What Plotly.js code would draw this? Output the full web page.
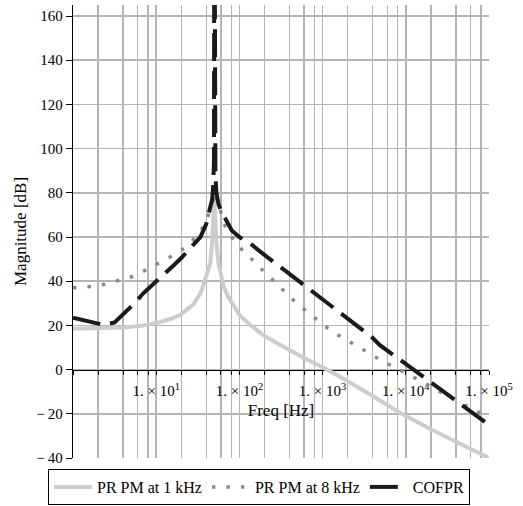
<!DOCTYPE html>
<html>
<head>
<meta charset="utf-8">
<script src="https://cdn.plot.ly/plotly-3.0.1.min.js"></script>
<style>
html,body{margin:0;padding:0;background:#fff;}
#chart{width:523px;height:506px;}
</style>
</head>
<body>
<div id="chart"></div>
<script>
// PR PM at 1 kHz (light gray solid)
const freq1k = [1, 2, 4, 7, 11, 15, 20, 28, 34, 37, 41, 44.6, 47, 48.3, 49.3, 50, 50.7, 51.8, 53.2, 56, 60, 64.6, 72, 81.5, 100, 135, 200, 400, 600, 1000, 1620, 4100, 8600, 20000, 50000, 100000];
const mag1k  = [18.5, 18.6, 19, 20, 21.5, 23, 25, 29.5, 34.5, 38.5, 43.5, 48, 57, 64, 72, 78, 72, 64, 57, 48, 42, 37.6, 33.5, 30, 24.7, 20.2, 15.2, 8.9, 5.2, 1.1, -3.2, -12.2, -19.6, -27, -34.5, -40];

// PR PM at 8 kHz (gray dotted)
const freq8k = [1, 1.64, 2.4, 3.5, 5.06, 7.25, 10.4, 14.5, 20.4, 27.4, 34, 40, 46.9, 48.5, 50, 52, 55, 59, 64.6, 79, 100, 133, 175, 231, 310, 400, 550, 750, 1000, 1370, 1930, 2690, 3800, 5400, 7450, 10800, 15200, 21600, 35000, 63000, 86000, 100000];
const mag8k  = [37, 37.6, 38.6, 40.3, 42, 44.8, 47.7, 50.8, 54.2, 58.4, 62.5, 67, 75.3, 77, 80, 77, 74, 72.3, 66.2, 60.5, 55.4, 50.9, 46.3, 41.8, 37.3, 33, 28.5, 24.3, 20.5, 16.7, 13.4, 10.1, 6.8, 3.6, 0.9, -2.1, -5.4, -8.4, -12.5, -17.5, -20.5, -21.8];

// COFPR (black dashed)
const freqCO = [1, 1.5, 2.33, 3.16, 4, 5.6, 6.9, 9, 12.5, 15.9, 20, 27.4, 34, 40, 44.7, 47, 48.5, 49.5, 50, 50.5, 51.5, 53, 56, 60, 67.8, 81, 100, 142, 178, 235, 270, 355, 650, 860, 1560, 2000, 3900, 4840, 9400, 11800, 23400, 29900, 56900, 73000, 100000];
const magCO  = [23.5, 22, 20.2, 21.3, 25, 30.3, 34.3, 38.5, 43.3, 46.9, 50.5, 56.1, 60, 66, 73, 77, 83, 95, 250, 95, 87, 80, 75, 72, 68.5, 63, 60, 56.4, 53.4, 49.6, 48.1, 44.8, 37.3, 33.8, 26.2, 22.8, 14.7, 11.2, 3.3, 0.2, -7.7, -10.7, -18.2, -21.5, -25];

const seriesNames = ["PR PM at 1 kHz", "PR PM at 8 kHz", "COFPR"];

// axis ticks / grid
const xTickVals = [1,2,4,6,8,10,20,40,60,80,100,200,400,600,800,1000,2000,4000,6000,8000,10000,20000,40000,60000,80000,100000];
const xTickText = ["","","","","","1. × 10<sup>1</sup>","","","","","1. × 10<sup>2</sup>","","","","","1. × 10<sup>3</sup>","","","","","1. × 10<sup>4</sup>","","","","","1. × 10<sup>5</sup>"];
const yTickVals = [-40,-20,0,20,40,60,80,100,120,140,160];
const yTickText = ["\u2212\u200940","\u2212\u200920","0","20","40","60","80","100","120","140","160"];

const FONT = "'Liberation Serif', 'Times New Roman', serif";

const traces = [
  {x: freq1k, y: mag1k, name: seriesNames[0], mode: "lines",
   line: {color: "#cdcdcd", width: 4}},
  {x: freq8k, y: mag8k, name: seriesNames[1], mode: "lines",
   line: {color: "#8a8a8a", width: 3.5, dash: "3.5px,11px"}},
  {x: freqCO, y: magCO, name: seriesNames[2], mode: "lines",
   line: {color: "#1a1a1a", width: 4, dash: "28px,10px"}}
];

const yMin = -40, yMax = 165;

const layout = {
  width: 523, height: 506,
  margin: {l: 73, r: 34, t: 5, b: 48, autoexpand: false},
  paper_bgcolor: "#fff", plot_bgcolor: "#fff",
  font: {family: FONT, size: 16, color: "#000"},
  showlegend: true,
  legend: {
    orientation: "h", x: -0.06, xanchor: "left", y: -0.0243, yanchor: "top",
    bordercolor: "#000", borderwidth: 1, bgcolor: "#fff",
    font: {family: FONT, size: 16, color: "#000"},
    itemwidth: 38,
    tracegroupgap: 0
  },
  xaxis: {
    type: "log", range: [0, 5],
    anchor: "free", position: (0 - yMin) / (yMax - yMin),
    showline: true, linecolor: "#000", linewidth: 1.3,
    ticks: "outside", ticklen: 4, tickwidth: 1, tickcolor: "#000",
    ticklabelstandoff: 3,
    tickmode: "array", tickvals: xTickVals, ticktext: xTickText,
    tickfont: {family: FONT, size: 15, color: "#000"},
    showgrid: true, gridcolor: "#b4b4b4", gridwidth: 1.5,
    zeroline: false, layer: "below traces",
    title: {text: "Freq [Hz]", font: {family: FONT, size: 17, color: "#000"}, standoff: 6}
  },
  yaxis: {
    range: [yMin, yMax],
    showline: true, linecolor: "#000", linewidth: 1.3,
    ticks: "outside", ticklen: 6, tickwidth: 1, tickcolor: "#000",
    tickmode: "array", tickvals: yTickVals, ticktext: yTickText,
    tickfont: {family: FONT, size: 15, color: "#000"},
    showgrid: true, gridcolor: "#b4b4b4", gridwidth: 1.5,
    zeroline: false,
    title: {text: "Magnitude [dB]", font: {family: FONT, size: 17, color: "#000"}, standoff: 5}
  }
};

Plotly.newPlot("chart", traces, layout, {displayModeBar: false, staticPlot: true});
</script>
</body>
</html>
